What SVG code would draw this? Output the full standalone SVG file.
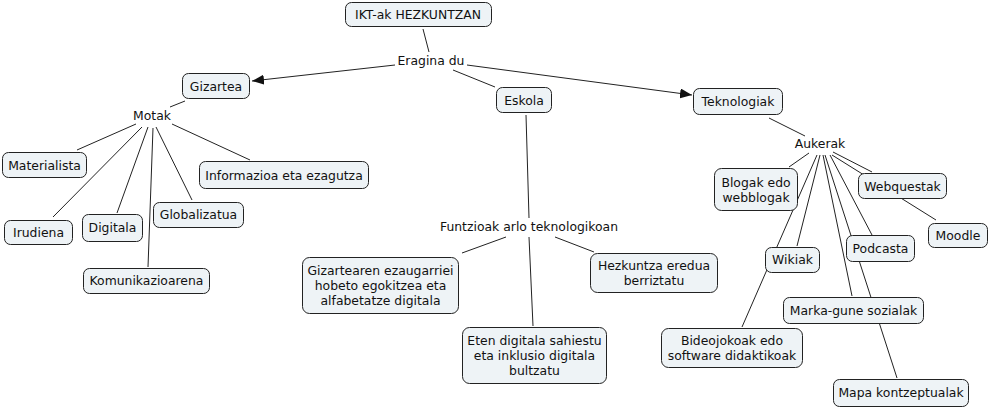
<svg xmlns="http://www.w3.org/2000/svg" width="989" height="408" viewBox="0 0 989 408">
<style>
.n rect{fill:#eef3f6;stroke:#222;stroke-width:1}
text{font-family:"DejaVu Sans",Verdana,sans-serif;font-size:12.4px;fill:#111;text-anchor:middle;dominant-baseline:central}
.c line{stroke:#222;stroke-width:1}
</style>
<defs>
<marker id="ah" viewBox="0 0 12 10" refX="12" refY="5" markerWidth="12" markerHeight="10" markerUnits="userSpaceOnUse" orient="auto">
<path d="M0,0 L12,5 L0,10 z" fill="#111"/>
</marker>
</defs>
<rect width="989" height="408" fill="#fff"/>
<g id="connectors" class="c">
<line x1="423" y1="29" x2="429" y2="52"/>
<line x1="395" y1="65" x2="252" y2="81" marker-end="url(#ah)"/>
<line x1="453" y1="70" x2="495" y2="87"/>
<line x1="467" y1="65" x2="692" y2="95" marker-end="url(#ah)"/>
<line x1="185" y1="101" x2="170" y2="107"/>
<line x1="136" y1="124" x2="77" y2="150"/>
<line x1="172" y1="124" x2="250" y2="160"/>
<line x1="142" y1="127" x2="53" y2="217"/>
<line x1="148" y1="127" x2="117" y2="213"/>
<line x1="156" y1="127" x2="192" y2="200"/>
<line x1="153" y1="128" x2="148" y2="267"/>
<line x1="526" y1="115" x2="529" y2="218"/>
<line x1="506" y1="237" x2="462" y2="253"/>
<line x1="529" y1="237" x2="533" y2="326"/>
<line x1="555" y1="237" x2="594" y2="252"/>
<line x1="769" y1="118" x2="805" y2="136"/>
<line x1="809" y1="153" x2="789" y2="167"/>
<line x1="833" y1="152" x2="872" y2="172"/>
<line x1="832" y1="155" x2="936" y2="220"/>
<line x1="820" y1="155" x2="797" y2="246"/>
<line x1="817" y1="155" x2="742" y2="327"/>
<line x1="823" y1="155" x2="852" y2="296"/>
<line x1="830" y1="155" x2="872" y2="235"/>
<line x1="825" y1="155" x2="897" y2="378"/>
</g>
<g id="ikt" class="n"><rect x="345.5" y="2.5" width="146" height="24" rx="6"/><text x="418" y="14.5">IKT-ak HEZKUNTZAN</text></g>
<g id="eragina"><text x="431" y="60">Eragina du</text></g>
<g id="gizartea" class="n"><rect x="182.5" y="73.5" width="67" height="25" rx="6"/><text x="216" y="86">Gizartea</text></g>
<g id="eskola" class="n"><rect x="496.5" y="87.5" width="55" height="25" rx="6"/><text x="524" y="100">Eskola</text></g>
<g id="teknologiak" class="n"><rect x="693.5" y="88.5" width="89" height="26" rx="6"/><text x="738" y="101.5">Teknologiak</text></g>
<g id="motak"><text x="152" y="115">Motak</text></g>
<g id="materialista" class="n"><rect x="2.5" y="152.5" width="84" height="25" rx="6"/><text x="44.5" y="165">Materialista</text></g>
<g id="informazioa" class="n"><rect x="199.5" y="161.5" width="169" height="27" rx="6"/><text x="284" y="175">Informazioa eta ezagutza</text></g>
<g id="irudiena" class="n"><rect x="4.5" y="220.5" width="68" height="24" rx="6"/><text x="38.5" y="232.5">Irudiena</text></g>
<g id="digitala" class="n"><rect x="82.5" y="214.5" width="60" height="27" rx="6"/><text x="112.5" y="227">Digitala</text></g>
<g id="globalizatua" class="n"><rect x="153.5" y="202.5" width="90" height="25" rx="6"/><text x="198.5" y="214.5">Globalizatua</text></g>
<g id="komunikazioarena" class="n"><rect x="83.5" y="268.5" width="126" height="25" rx="6"/><text x="146.5" y="280.5">Komunikazioarena</text></g>
<g id="funtzioak"><text x="529" y="226">Funtzioak arlo teknologikoan</text></g>
<g id="gizartearen" class="n"><rect x="302.5" y="257.5" width="156" height="56" rx="7"/><text x="380.5" y="270">Gizartearen ezaugarriei</text><text x="380.5" y="285">hobeto egokitzea eta</text><text x="380.5" y="300">alfabetatze digitala</text></g>
<g id="eten" class="n"><rect x="462.5" y="327.5" width="144" height="56" rx="7"/><text x="534.5" y="340">Eten digitala sahiestu</text><text x="534.5" y="355">eta inklusio digitala</text><text x="534.5" y="370">bultzatu</text></g>
<g id="hezkuntza" class="n"><rect x="590.5" y="253.5" width="127" height="39" rx="7"/><text x="654" y="265.5">Hezkuntza eredua</text><text x="654" y="280.5">berriztatu</text></g>
<g id="aukerak"><text x="820" y="143">Aukerak</text></g>
<g id="blogak" class="n"><rect x="714.5" y="168.5" width="83" height="42" rx="7"/><text x="756" y="182">Blogak edo</text><text x="756" y="197">webblogak</text></g>
<g id="webquestak" class="n"><rect x="858.5" y="173.5" width="88" height="25" rx="6"/><text x="902.5" y="186">Webquestak</text></g>
<g id="moodle" class="n"><rect x="928.5" y="223.5" width="59" height="24" rx="6"/><text x="958" y="235.5">Moodle</text></g>
<g id="wikiak" class="n"><rect x="765.5" y="247.5" width="54" height="25" rx="6"/><text x="792.5" y="259.5">Wikiak</text></g>
<g id="podcasta" class="n"><rect x="846.5" y="235.5" width="68" height="26" rx="6"/><text x="880.5" y="248">Podcasta</text></g>
<g id="markagune" class="n"><rect x="783.5" y="297.5" width="140" height="26" rx="6"/><text x="853.5" y="310">Marka-gune sozialak</text></g>
<g id="bideojokoak" class="n"><rect x="661.5" y="328.5" width="141" height="39" rx="7"/><text x="732" y="340.5">Bideojokoak edo</text><text x="732" y="355.5">software didaktikoak</text></g>
<g id="mapa" class="n"><rect x="833.5" y="379.5" width="135" height="27" rx="6"/><text x="901" y="392.5">Mapa kontzeptualak</text></g>
</svg>
